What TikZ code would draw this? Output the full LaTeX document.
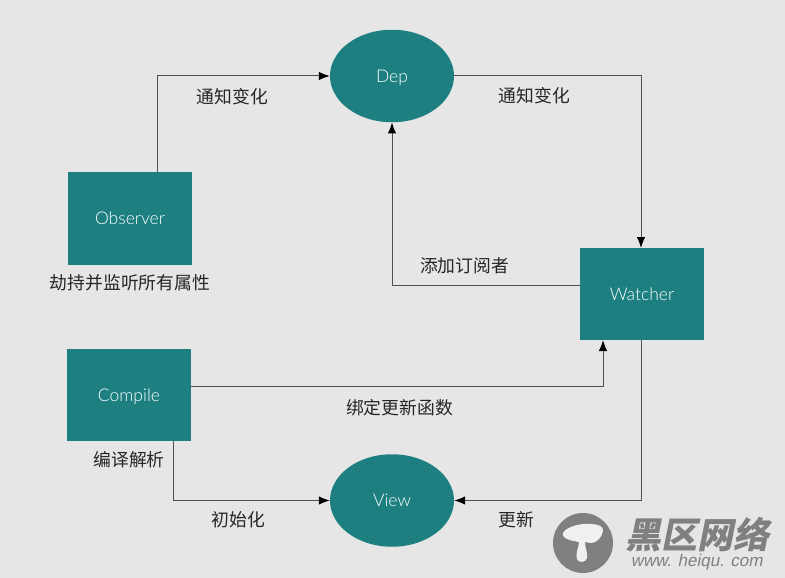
\documentclass[tikz,border=0pt]{standalone}
\usepackage{fontspec}
\setmainfont{Lato Light}
\newfontfamily\wmfont{Liberation Sans}
\newfontfamily\cjk{Noto Sans CJK SC}
\usetikzlibrary{shapes.geometric,arrows.meta,calc}
\definecolor{bgc}{HTML}{E6E6E6}
\definecolor{teal1}{HTML}{1D7F80}
\definecolor{linec}{HTML}{505050}
\definecolor{wm}{HTML}{808080}
\newcommand{\lowered}[1]{\raisebox{-6pt}[0pt][0pt]{#1}}
\tikzset{
 box/.style={draw=none,fill=teal1,minimum width=124pt,minimum height=92.5pt,inner sep=0pt,text=white,font=\fontsize{17.5}{20}\selectfont},
 oval/.style={ellipse,draw=none,fill=teal1,minimum width=124pt,minimum height=92.5pt,inner sep=0pt,text=white,font=\fontsize{17.5}{20}\selectfont},
 conn/.style={draw=linec,line width=1pt,-{Latex[length=11pt,width=8.5pt,black]}},
 lab/.style={font=\cjk\fontsize{17.8}{20}\selectfont,text=black!85,inner sep=0pt},
 wmtext/.style={text=wm,inner sep=0pt}
}
\begin{document}
\begin{tikzpicture}[x=1pt,y=-1pt]
\useasboundingbox (0,0) rectangle (785,578);
\fill[bgc] (0,0) rectangle (785,578);
\node[oval] (dep) at (392,76) {\lowered{Dep}};
\node[oval] (view) at (392,500.5) {\lowered{View}};
\node[box] (obs) at (130,218.5) {\lowered{Observer}};
\node[box] (wat) at (642,294) {\lowered{Watcher}};
\node[box] (com) at (129,395) {\lowered{Compile}};
\coordinate (obsT) at (157,172);
\coordinate (watT) at (641,248);
\coordinate (watB) at (641,340);
\coordinate (watBL) at (603,340);
\coordinate (watL) at (580,285);
\coordinate (comR) at (191,386);
\coordinate (comB) at (173,441);
\draw[conn] (obsT) |- (dep.west);
\draw[conn] (dep.east) -| (watT);
\draw[conn] (watL) -| (dep.south);
\draw[conn] (comR) -| (watBL);
\draw[conn] (comB) |- (view.west);
\draw[conn] (watB) |- (view.east);
\node[lab] (l1) at (232.5,97) {通知变化};
\node[lab] (l2) at (534.5,96) {通知变化};
\node[lab] (l3) at (464.5,266) {添加订阅者};
\node[lab] (l4) at (130,283) {劫持并监听所有属性};
\node[lab] (l5) at (399.5,408) {绑定更新函数};
\node[lab] (l6) at (129,460) {编译解析};
\node[lab] (l7) at (238.5,520) {初始化};
\node[lab] (l8) at (516,520) {更新};
% watermark
\fill[wm] (583,543) circle (30);
\fill[bgc!60!white] (563,533) .. controls (566,527) and (580,523) .. (590,524) .. controls (597,524) and (604,526) .. (603,531) .. controls (602,537) and (597,543) .. (591,543) .. controls (589,543) and (587,542) .. (585,542) .. controls (585,548) and (588,553) .. (587,558) .. controls (586,563) and (578,563) .. (577,559) .. controls (575,554) and (579,547) .. (579,542) .. controls (573,541) and (561,539) .. (563,533) -- cycle;
\node[wmtext,font=\cjk\bfseries\fontsize{36}{38}\selectfont,xslant=0.2] (wm1) at (700,535) {黑区网络};
\node[wmtext,font=\wmfont\fontsize{17}{18}\selectfont,xslant=0.2] (wm2) at (697.5,562) {www. heiqu. com};
\end{tikzpicture}
\end{document}
